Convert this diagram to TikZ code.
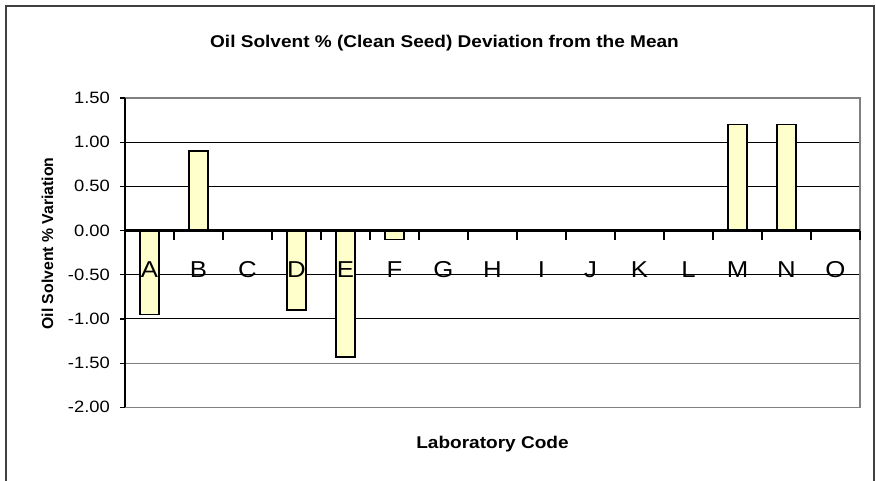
\documentclass[tikz,border=0pt]{standalone}
\usepackage{fontspec}
\setmainfont{Liberation Sans}[FakeStretch=1.12]
\newfontfamily\ylabfont{Liberation Sans}
\definecolor{barfill}{HTML}{FFFFCC}
\definecolor{framegray}{HTML}{404040}
\definecolor{plotgray}{HTML}{808080}

\begin{document}
\begin{tikzpicture}[
    x=1pt, y=-1pt,
    every node/.style={inner sep=0pt},
    heading/.style={font=\fontsize{17}{20}\selectfont\bfseries, anchor=base},
    ticklabel/.style={font=\fontsize{16.4}{19}\selectfont, anchor=east},
    catlabel/.style={font=\fontsize{23}{27}\selectfont, anchor=base},
    bar/.style={draw, fill=barfill, line width=1.2pt},
    grid/.style={line width=0.9pt}
]
    \useasboundingbox (0,0) rectangle (876,480);
    \fill[white] (0,0) rectangle (876,480);
    \draw[framegray, line width=1.5pt] (6,6) rectangle (874,490);

    \node[heading] (title) at (444.5,47) {Oil Solvent \% (Clean Seed) Deviation from the Mean};
    \node[heading] (xlabel) at (492.5,448) {Laboratory Code};
    \node[font=\ylabfont\fontsize{15.8}{19}\selectfont\bfseries, rotate=90, anchor=base] (ylabel) at (53,243.5) {Oil Solvent \% Variation};

    \begin{scope}[xshift=125pt, yshift=-230.5pt, x=49pt, y=88.4pt]
        % grid and plot area
        \foreach \v in {1,0.5,-0.5,-1}
            \draw[grid] (0,\v) -- (15,\v);
        \draw[grid, plotgray] (0,-1.5) -- (15,-1.5);
        \draw[plotgray, line width=1.2pt] (0,1.5) -- (15,1.5) -- (15,-2) -- (0,-2);

        % deviations
        \foreach \i/\val in {1/-0.95, 2/0.90, 4/-0.90, 5/-1.43, 6/-0.10, 13/1.20, 14/1.20}
            \draw[bar] ({\i-0.5-0.194},0) rectangle ({\i-0.5+0.194},\val);

        % axes
        \draw[line width=1.2pt] (0,1.5) -- (0,-2);
        \foreach \v/\t in {1.5/1.50, 1/1.00, 0.5/0.50, 0/0.00, -0.5/-0.50, -1/-1.00, -1.5/-1.50, -2/-2.00} {
            \draw[line width=1.2pt] (0,\v) -- ++(-0.1,0);
            \node[ticklabel] (tick\t) at (-0.306,\v) {\t};
        }
        \draw[line width=3pt] (0,0) -- (15,0);
        \foreach \i in {0,...,15}
            \draw[line width=2.5pt] (\i,0) -- ++(0,-0.11);

        \foreach \lab [count=\i] in {A,B,C,D,E,F,G,H,I,J,K,L,M,N,O}
            \node[catlabel] (cat\lab) at ({\i-0.5},-0.526) {\lab};
    \end{scope}
\end{tikzpicture}
\end{document}
